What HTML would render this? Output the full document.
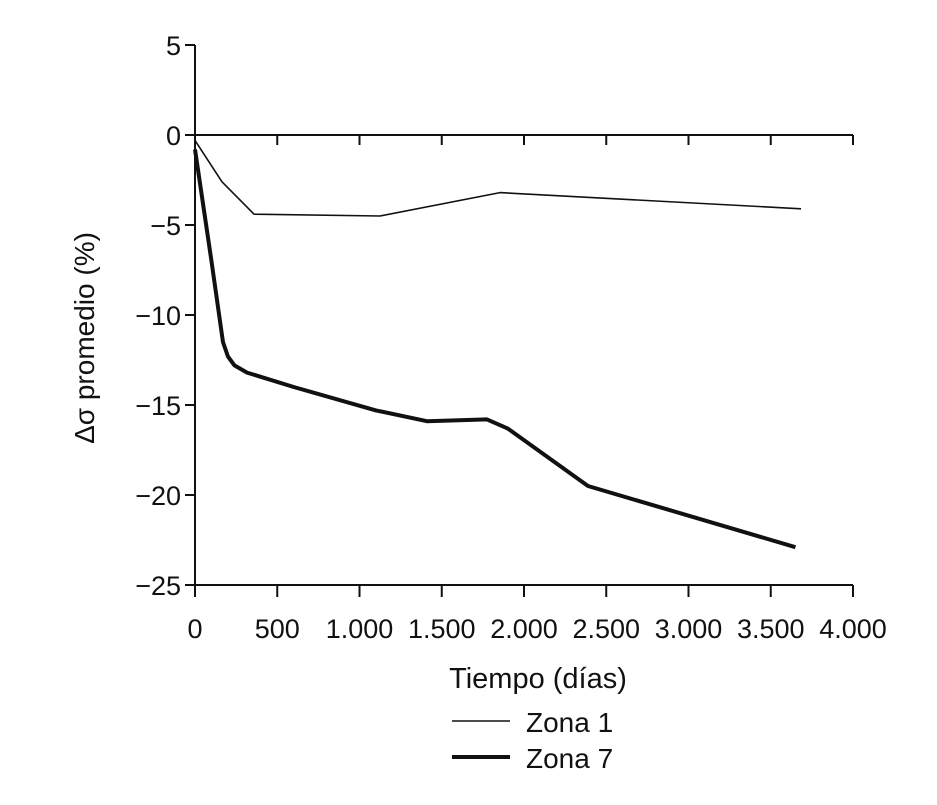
<!DOCTYPE html>
<html><head><meta charset="utf-8"><style>
html,body{margin:0;padding:0;background:#fff}
svg text{font-family:"Liberation Sans",sans-serif;fill:#111}
</style></head><body>
<svg width="937" height="800" viewBox="0 0 937 800">
<g id="axes"></g><g id="series"></g>
<text x="538" y="688" font-size="29" text-anchor="middle">Tiempo (días)</text>
<text transform="translate(94,338) rotate(-90)" font-size="28" text-anchor="middle">Δσ promedio (%)</text>
<g>
<line x1="452" y1="721" x2="510" y2="721" stroke="#111" stroke-width="1.5"/>
<text x="526" y="732" font-size="28">Zona 1</text>
<line x1="452" y1="757" x2="510" y2="757" stroke="#111" stroke-width="4"/>
<text x="526" y="768" font-size="28">Zona 7</text>
</g>
</svg>
<script>
const xTicks=[0,500,1000,1500,2000,2500,3000,3500,4000];
const xTickLabels=["0","500","1.000","1.500","2.000","2.500","3.000","3.500","4.000"];
const yTicks=[5,0,-5,-10,-15,-20,-25];
const yTickLabels=["5","0","\u22125","\u221210","\u221215","\u221220","\u221225"];
const zona1Days=[0,164,359,1125,1854,3684];
const zona1Vals=[-0.3,-2.6,-4.4,-4.5,-3.2,-4.1];
const zona7Days=[0,100,170,200,240,316,600,1100,1410,1775,1900,2389,3650];
const zona7Vals=[-0.8,-7,-11.5,-12.3,-12.8,-13.2,-14,-15.3,-15.9,-15.8,-16.3,-19.5,-22.9];
const NS="http://www.w3.org/2000/svg";
const X=d=>195+d*0.1645;
const Y=v=>135-v*18;
function mk(t,a,p){const e=document.createElementNS(NS,t);for(const k in a)e.setAttribute(k,a[k]);p.appendChild(e);return e;}
const ax=document.getElementById('axes');
let e=mk('line',{x1:X(0),y1:Y(5),x2:X(0),y2:Y(-25),stroke:'#111','stroke-width':2},ax);


e=mk('line',{x1:X(0),y1:Y(0),x2:X(4000),y2:Y(0),stroke:'#111','stroke-width':2},ax);


e=mk('line',{x1:X(0),y1:Y(-25),x2:X(4000),y2:Y(-25),stroke:'#111','stroke-width':2},ax);


xTicks.forEach((d,i)=>{
 let t=mk('line',{x1:X(d),y1:Y(0),x2:X(d),y2:Y(0)+10,stroke:'#111','stroke-width':2},ax);
 
 
 t=mk('line',{x1:X(d),y1:Y(-25),x2:X(d),y2:Y(-25)+12,stroke:'#111','stroke-width':2},ax);
 
 
 const l=mk('text',{x:X(d),y:638,'font-size':27,'text-anchor':'middle'},ax);l.textContent=xTickLabels[i];
 
 
});
yTicks.forEach((v,i)=>{
 const t=mk('line',{x1:X(0)-10,y1:Y(v),x2:X(0),y2:Y(v),stroke:'#111','stroke-width':2},ax);
 
 
 const l=mk('text',{x:181,y:Y(v)+10,'font-size':27,'text-anchor':'end'},ax);l.textContent=yTickLabels[i];
 
 
});
const sg=document.getElementById('series');
function pts(ds,vs){return ds.map((d,i)=>X(d)+','+Y(vs[i])).join(' ');}
e=mk('polyline',{points:pts(zona1Days,zona1Vals),fill:'none',stroke:'#111','stroke-width':1.6,'stroke-linejoin':'round'},sg);


e=mk('polyline',{points:pts(zona7Days,zona7Vals),fill:'none',stroke:'#111','stroke-width':4,'stroke-linejoin':'round'},sg);


</script>
</body></html>
